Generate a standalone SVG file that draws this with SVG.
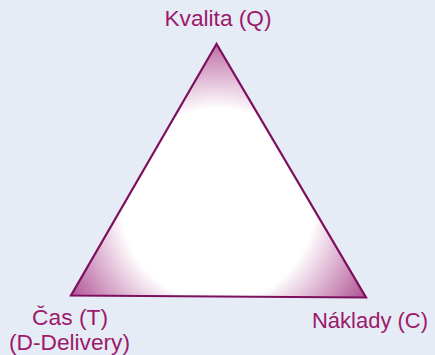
<svg xmlns="http://www.w3.org/2000/svg" width="435" height="355" viewBox="0 0 435 355">
  <style>
    .lbl { font-family: "Liberation Sans", Arial, sans-serif; font-size: 21.5px; fill: #9c1a6c; }
  </style>
  <defs>
    <radialGradient id="g" gradientUnits="userSpaceOnUse" cx="218" cy="205" r="172">
      <stop offset="0" stop-color="#ffffff"/>
      <stop offset="0.56" stop-color="#ffffff"/>
      <stop offset="1" stop-color="#b25597"/>
    </radialGradient>
  </defs>
  <rect x="0" y="0" width="435" height="355" fill="#e6ecf5"/>
  <g id="triangle">
    <polygon points="216.5,44 71,295.5 366,297.5" fill="url(#g)" stroke="#7d0f5e" stroke-width="2.2" stroke-linejoin="miter"/>
  </g>
  <g id="node-q">
    <text class="lbl" x="218" y="26" text-anchor="middle" textLength="107" lengthAdjust="spacingAndGlyphs">Kvalita (Q)</text>
  </g>
  <g id="node-t">
    <text class="lbl" x="70" y="325" text-anchor="middle" textLength="76" lengthAdjust="spacingAndGlyphs">Čas (T)</text>
    <text class="lbl" x="69.5" y="350" text-anchor="middle" textLength="121" lengthAdjust="spacingAndGlyphs">(D-Delivery)</text>
  </g>
  <g id="node-c">
    <text class="lbl" x="370" y="327.5" text-anchor="middle" textLength="116" lengthAdjust="spacingAndGlyphs">Náklady (C)</text>
  </g>
  <g id="connectors"></g>
</svg>
